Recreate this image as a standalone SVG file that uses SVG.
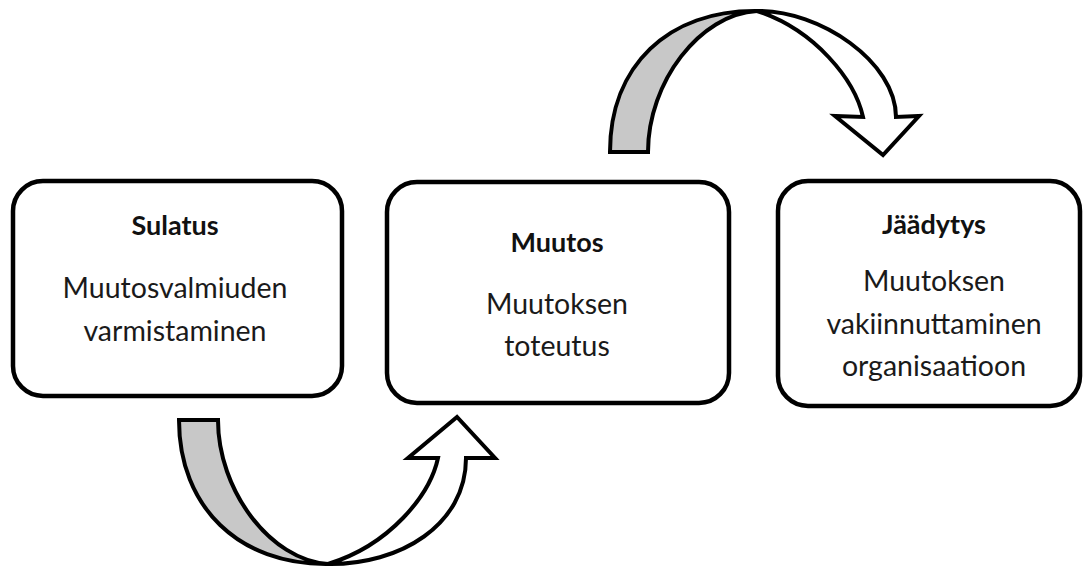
<svg xmlns="http://www.w3.org/2000/svg" width="1084" height="571" viewBox="0 0 1084 571">
<style>
.box{fill:#fff;stroke:#000;stroke-width:4.5}
.t{font-family:Lato,"Liberation Sans",sans-serif;font-weight:700;font-size:27px;fill:#111;text-anchor:middle}
.b{font-family:Lato,"Liberation Sans",sans-serif;font-size:28.5px;fill:#1a1a1a;text-anchor:middle}
.back{fill:#c8c8c8;stroke:#000;stroke-width:4;stroke-linejoin:miter}
.front{fill:#fff;stroke:#000;stroke-width:4;stroke-linejoin:miter}
</style>
<rect width="1084" height="571" fill="#fff"/>
<g id="connectors">
  <g id="arrow-sulatus-muutos">
    <path class="back" d="M179,420 C179,507 239,565 328,564 C270,560 218,490 218,420 Z"/>
    <path class="front" d="M328,564 C400,565 466,525 466,458 L495,458 L457,417 L408,458 L438,458 C430,495 390,545 328,564 Z"/>
  </g>
  <g id="arrow-muutos-jaadytys">
    <path class="back" d="M610,152 C610,66 668,10 757,11 C700,14 648,82 648,152 Z"/>
    <path class="front" d="M757,11 C820,10 896,62 896,117 L919,116 L883,155 L835,116 L863,117 C855,80 815,30 757,11 Z"/>
  </g>
</g>
<g id="sulatus">
  <rect class="box" x="13" y="181" width="329" height="215" rx="30"/>
  <text class="t" x="175" y="235">Sulatus</text>
  <text class="b" x="175" y="298">Muutosvalmiuden</text>
  <text class="b" x="175" y="341">varmistaminen</text>
</g>
<g id="muutos">
  <rect class="box" x="387" y="182" width="342" height="221" rx="30"/>
  <text class="t" x="557" y="252">Muutos</text>
  <text class="b" x="557" y="314">Muutoksen</text>
  <text class="b" x="557" y="356">toteutus</text>
</g>
<g id="jaadytys">
  <rect class="box" x="778" y="181" width="302" height="225" rx="30"/>
  <text class="t" x="934" y="234">Jäädytys</text>
  <text class="b" x="934" y="291">Muutoksen</text>
  <text class="b" x="934" y="334">vakiinnuttaminen</text>
  <text class="b" x="934" y="376">organisaatioon</text>
</g>
</svg>
